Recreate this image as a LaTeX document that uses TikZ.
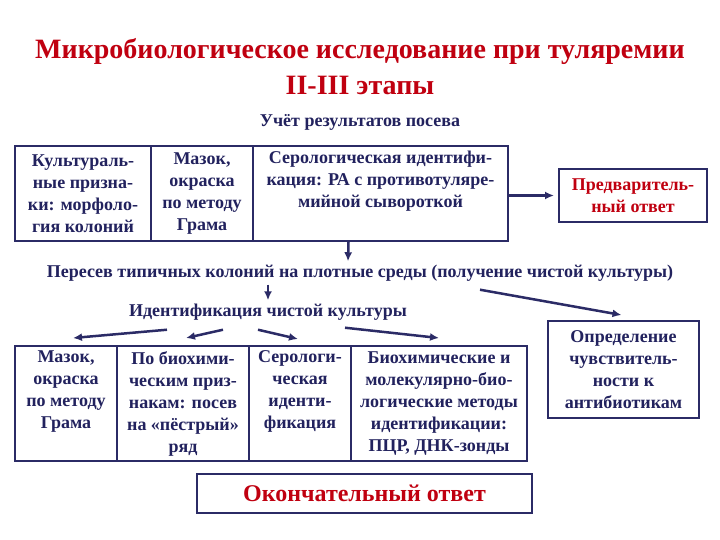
\documentclass[tikz,border=0pt]{standalone}
\usepackage{fontspec}
\setmainfont{Liberation Serif}
\usetikzlibrary{positioning,calc,arrows.meta}
\definecolor{navy}{HTML}{22225E}
\definecolor{boxline}{HTML}{2B2B66}
\definecolor{darkred}{HTML}{C00010}

\begin{document}
\begin{tikzpicture}[x=1pt,y=-1pt,
    cell/.style={draw=boxline,line width=2pt,text=navy,align=center,inner sep=1pt,
      anchor=north west,font=\bfseries\fontsize{18}{22}\selectfont},
    redcell/.style={cell,text=darkred},
    label/.style={text=navy,font=\bfseries\fontsize{18}{20}\selectfont},
    link/.style={draw=boxline,line width=2.5pt,-{Latex[length=9pt,width=8pt]}}]
    \fill[white] (0,0) rectangle (720,540);
    \useasboundingbox (0,0) rectangle (720,540);
    % title
    \node[text=darkred,font=\bfseries\fontsize{28}{32}\selectfont] (title1) at (360,52) {Микробиологическое исследование при туляремии};
    \node[text=darkred,font=\bfseries\fontsize{28}{32}\selectfont] (title2) at (360,85) {II-III этапы};
    \node[label] (ucet) at (360,122) {Учёт результатов посева};
    % first row
    \node[cell,minimum width=136pt,minimum height=95pt] (c1) at (14,145) {Культураль-\\ные призна-\\ки: морфоло-\\гия колоний};
    \node[cell,minimum width=102pt,minimum height=95pt] (c2) at (150,145) {Мазок,\\окраска\\по методу\\Грама};
    \node[cell,minimum width=255pt,minimum height=95pt] (c3) at (252,145) {Серологическая идентифи-\\кация: РА с противотуляре-\\мийной сывороткой\\ \strut};
    \node[redcell,minimum width=148pt,minimum height=53pt] (prelim) at (558,168) {Предваритель-\\ный ответ};
    \path[link,shorten >=4pt] (c3.east |- prelim.west) -- (prelim.west);
    % reseeding
    \node[label] (pere) at (360,273) {Пересев типичных колоний на плотные среды (получение чистой культуры)};
    \node[label] (ident) at (268,312) {Идентификация чистой культуры};
    \path[link] ([xshift=-32pt]c3.south) -- ([xshift=-12pt]pere.north);
    \path[link] (pere.south -| ident.north) -- (ident.north);
    % second row
    \node[cell,minimum width=102pt,minimum height=115pt] (b1) at (14,345) {Мазок,\\окраска\\по методу\\Грама\\ \strut};
    \node[cell,minimum width=132pt,minimum height=115pt] (b2) at (116,345) {По биохими-\\ческим приз-\\накам: посев\\на «пёстрый»\\ряд};
    \node[cell,minimum width=102pt,minimum height=115pt] (b3) at (248,345) {Серологи-\\ческая\\иденти-\\фикация\\ \strut};
    \node[cell,minimum width=176pt,minimum height=115pt] (b4) at (350,345) {Биохимические и\\молекулярно-био-\\логические методы\\идентификации:\\ПЦР, ДНК-зонды};
    \node[cell,minimum width=151pt,minimum height=97pt] (anti) at (547,320) {Определение\\чувствитель-\\ности к\\антибиотикам};
    \path[link] ($(ident.south)+(-101,6)$) -- ($(b1.north)+(7,-7)$);
    \path[link] ($(ident.south)+(-45,6)$) -- ($(b2.north)+(3,-7)$);
    \path[link] ($(ident.south)+(-10,6)$) -- ($(b3.north)+(-2,-6)$);
    \path[link] ($(ident.south)+(77,4)$) -- ($(b4.north)+(0,-7)$);
    \path[link] ($(pere.south)+(120,5)$) -- ($(anti.north)+(-2,-5)$);
    % final answer
    \node[redcell,minimum width=335pt,minimum height=39pt,font=\bfseries\fontsize{24}{26}\selectfont] (final) at (196,473) {Окончательный ответ};
\end{tikzpicture}
\end{document}
